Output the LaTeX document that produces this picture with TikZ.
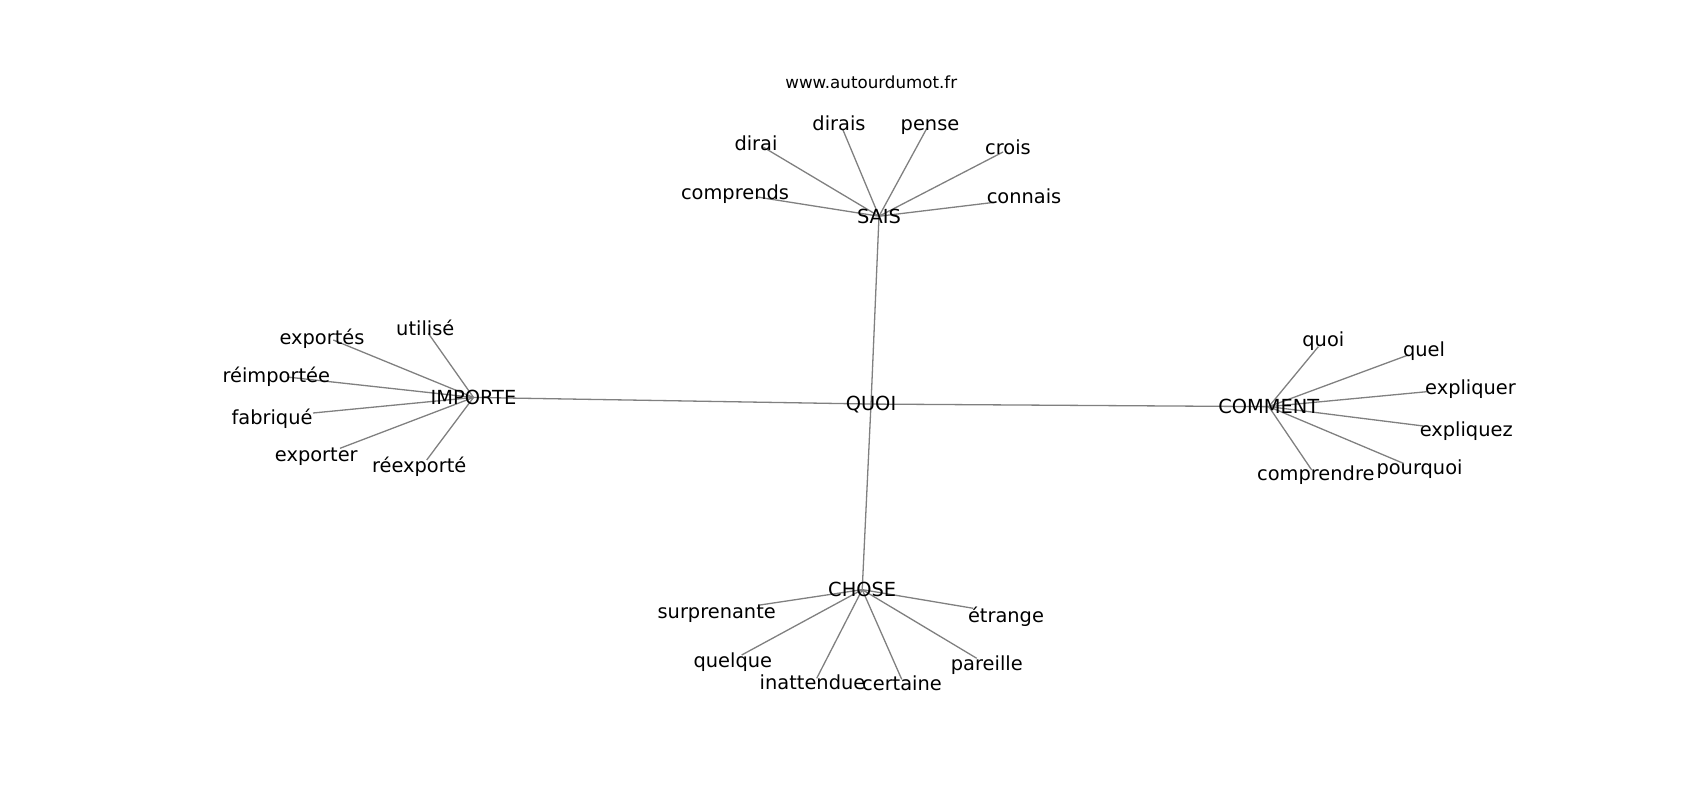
\documentclass[tikz,border=0pt]{standalone}
\usepackage{fontspec}
\setmainfont{DejaVu Sans}
\usetikzlibrary{backgrounds}
\begin{document}
\begin{tikzpicture}[x=1pt, y=-1pt,
  word/.style={anchor=base, inner sep=0pt, text=black, font=\fontsize{19.4}{23}\selectfont},
  leaf/.style={word, yshift=-1.5pt},
  site/.style={anchor=base, inner sep=0pt, text=black, font=\fontsize{16.7}{20}\selectfont},
  edge/.style={draw=edgegrey, line width=1.3pt}]
\definecolor{edgegrey}{HTML}{808080}
\useasboundingbox (0, 0) rectangle (1700, 800);
\node[site] (title) at (871.3, 88.5) {www.autourdumot.fr};
% hubs
\node[word] (quoi) at (871, 410) {QUOI};
\node[word] (sais) at (879, 223.3) {SAIS};
\node[word] (importe) at (473.5, 404.5) {IMPORTE};
\node[word] (comment) at (1268.8, 413.7) {COMMENT};
\node[word] (chose) at (862.2, 596.7) {CHOSE};
% SAIS
\node[word] (dirai) at (756, 150) {dirai}; \coordinate (e-dirai) at (763, 147);
\node[word] (dirais) at (839, 130) {dirais}; \coordinate (e-dirais) at (843, 130);
\node[word] (pense) at (930, 130.5) {pense}; \coordinate (e-pense) at (927, 128);
\node[word] (crois) at (1008, 154) {crois}; \coordinate (e-crois) at (1003, 152);
\node[leaf] (comprends) at (735, 198.3) {comprends}; \coordinate (e-comprends) at (757, 197);
\node[leaf] (connais) at (1024, 202.3) {connais}; \coordinate (e-connais) at (997, 202);
% IMPORTE
\node[leaf] (utilise) at (425.3, 334.3) {utilisé}; \coordinate (e-utilise) at (428.3, 333.3);
\node[leaf] (exportes) at (322, 343.3) {exportés}; \coordinate (e-exportes) at (333.3, 340);
\node[leaf] (reimportee) at (276.3, 380.7) {réimportée}; \coordinate (e-reimportee) at (287, 377);
\node[leaf] (fabrique) at (272, 422.7) {fabriqué}; \coordinate (e-fabrique) at (313, 413);
\node[leaf] (exporter) at (316.3, 460) {exporter}; \coordinate (e-exporter) at (340, 448.3);
\node[leaf] (reexporte) at (419.2, 470.7) {réexporté}; \coordinate (e-reexporte) at (426.7, 460);
% COMMENT
\node[leaf] (quoi2) at (1323.3, 345) {quoi}; \coordinate (e-quoi2) at (1318.3, 346.7);
\node[leaf] (quel) at (1424, 355) {quel}; \coordinate (e-quel) at (1408.3, 355);
\node[leaf] (expliquer) at (1470.5, 392.7) {expliquer}; \coordinate (e-expliquer) at (1426.7, 391.7);
\node[leaf] (expliquez) at (1466.2, 435) {expliquez}; \coordinate (e-expliquez) at (1423.3, 426);
\node[leaf] (pourquoi) at (1419.5, 473.3) {pourquoi}; \coordinate (e-pourquoi) at (1403.3, 463.3);
\node[leaf] (comprendre) at (1315.8, 479.3) {comprendre}; \coordinate (e-comprendre) at (1311.7, 470);
% CHOSE
\node[leaf] (surprenante) at (716.7, 616.7) {surprenante}; \coordinate (e-surprenante) at (760, 605);
\node[leaf] (etrange) at (1006, 620.7) {étrange}; \coordinate (e-etrange) at (973.3, 608.3);
\node[leaf] (quelque) at (732.8, 666) {quelque}; \coordinate (e-quelque) at (741.7, 655);
\node[leaf] (pareille) at (986.8, 669.3) {pareille}; \coordinate (e-pareille) at (976.7, 658.3);
\node[leaf] (inattendue) at (812.5, 688.3) {inattendue}; \coordinate (e-inattendue) at (816.7, 678.3);
\node[leaf] (certaine) at (902, 689.3) {certaine}; \coordinate (e-certaine) at (901.7, 679.3);
\begin{scope}[on background layer]
\draw[edge] (quoi.center) -- (sais.center);
\draw[edge] (quoi.center) -- (importe.center);
\draw[edge] (quoi.center) -- (comment.center);
\draw[edge] (quoi.center) -- (chose.center);
\foreach \w in {dirai, dirais, pense, crois, comprends, connais}
  \draw[edge] (sais.center) -- (e-\w);
\foreach \w in {utilise, exportes, reimportee, fabrique, exporter, reexporte}
  \draw[edge] (importe.center) -- (e-\w);
\foreach \w in {quoi2, quel, expliquer, expliquez, pourquoi, comprendre}
  \draw[edge] (comment.center) -- (e-\w);
\foreach \w in {surprenante, etrange, quelque, pareille, inattendue, certaine}
  \draw[edge] (chose.center) -- (e-\w);
\end{scope}
\end{tikzpicture}
\end{document}
